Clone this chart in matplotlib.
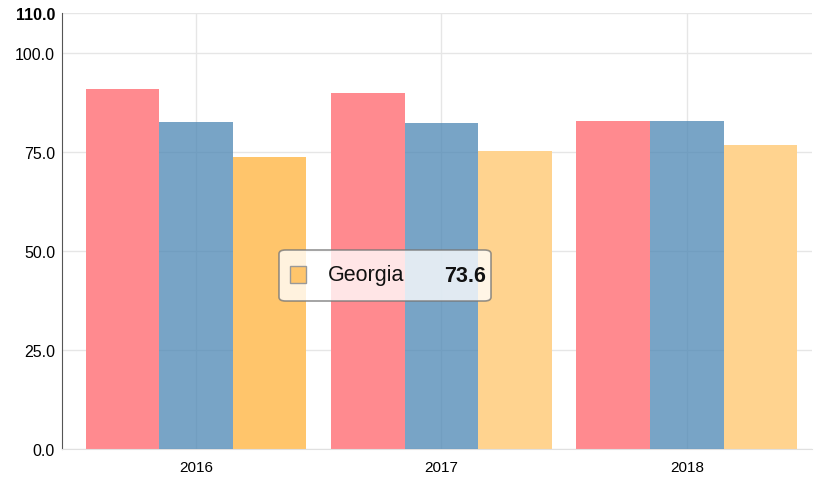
import numpy as np
import matplotlib.pyplot as plt
from matplotlib.patches import FancyBboxPatch, Rectangle

plt.rcParams['font.family'] = ['Liberation Sans', 'DejaVu Sans']

years = ['2016', '2017', '2018']
series_a = [90.7, 89.8, 82.8]
series_b = [82.6, 82.3, 82.8]
georgia = [73.6, 75.1, 76.6]

yticks = [0, 25, 50, 75, 100, 110]
ytick_labels = ['0.0', '25.0', '50.0', '75.0', '100.0', '110.0']

fig = plt.figure(figsize=(8.15, 4.81), dpi=100)
ax = fig.add_axes([62/815, 1-450/481, 750/815, 436/481])

x = np.arange(len(years))
w = 0.3
ax.bar(x - w, series_a, w, color='#FF8A8F', zorder=2)
ax.bar(x, series_b, w, color='#4B86B4', alpha=0.75, zorder=3)
yel_colors = ['#FFC56B', '#FFD38F', '#FFD38F']
ax.bar(x + w, georgia, w, color=yel_colors, zorder=2)

ax.set_ylim(0, 110)
ax.set_xlim(-0.546, 2.51)
ax.set_yticks(yticks)
ax.set_yticklabels(ytick_labels, fontsize=11.5)
ax.get_yticklabels()[-1].set_fontweight('bold')
ax.set_xticks(x)
ax.set_xticklabels(years, fontsize=11)
ax.tick_params(length=0, pad=5)
ax.tick_params(axis='x', pad=8)
ax.grid(True, color='#E6E6E6', linewidth=1, zorder=0)
ax.set_axisbelow(True)
for s in ['top', 'right']:
    ax.spines[s].set_visible(False)
ax.spines['left'].set_color('#555555')
ax.spines['bottom'].set_color('#E0E0E0')

# tooltip for the hovered bar
box = FancyBboxPatch((279/815, 1-302/481), 212/815, 51/481,
                     boxstyle='round,pad=0,rounding_size=0.008',
                     transform=fig.transFigure, facecolor='white', alpha=0.78,
                     edgecolor='#777777', linewidth=1.2, zorder=10)
fig.add_artist(box)
sq = Rectangle((290/815, 1-284/481), 16/815, 17/481, transform=fig.transFigure,
               facecolor='#FFC56B', edgecolor='#999999', linewidth=1, zorder=11)
fig.add_artist(sq)
fig.text(328/815, 1-276/481, 'Georgia', fontsize=15.5, va='center', ha='left',
         color='#111111', zorder=12)
fig.text(486/815, 1-276/481, '%.1f' % georgia[0], fontsize=15.5, fontweight='bold',
         va='center', ha='right', color='#111111', zorder=12)

fig.savefig('out.png', dpi=100)
